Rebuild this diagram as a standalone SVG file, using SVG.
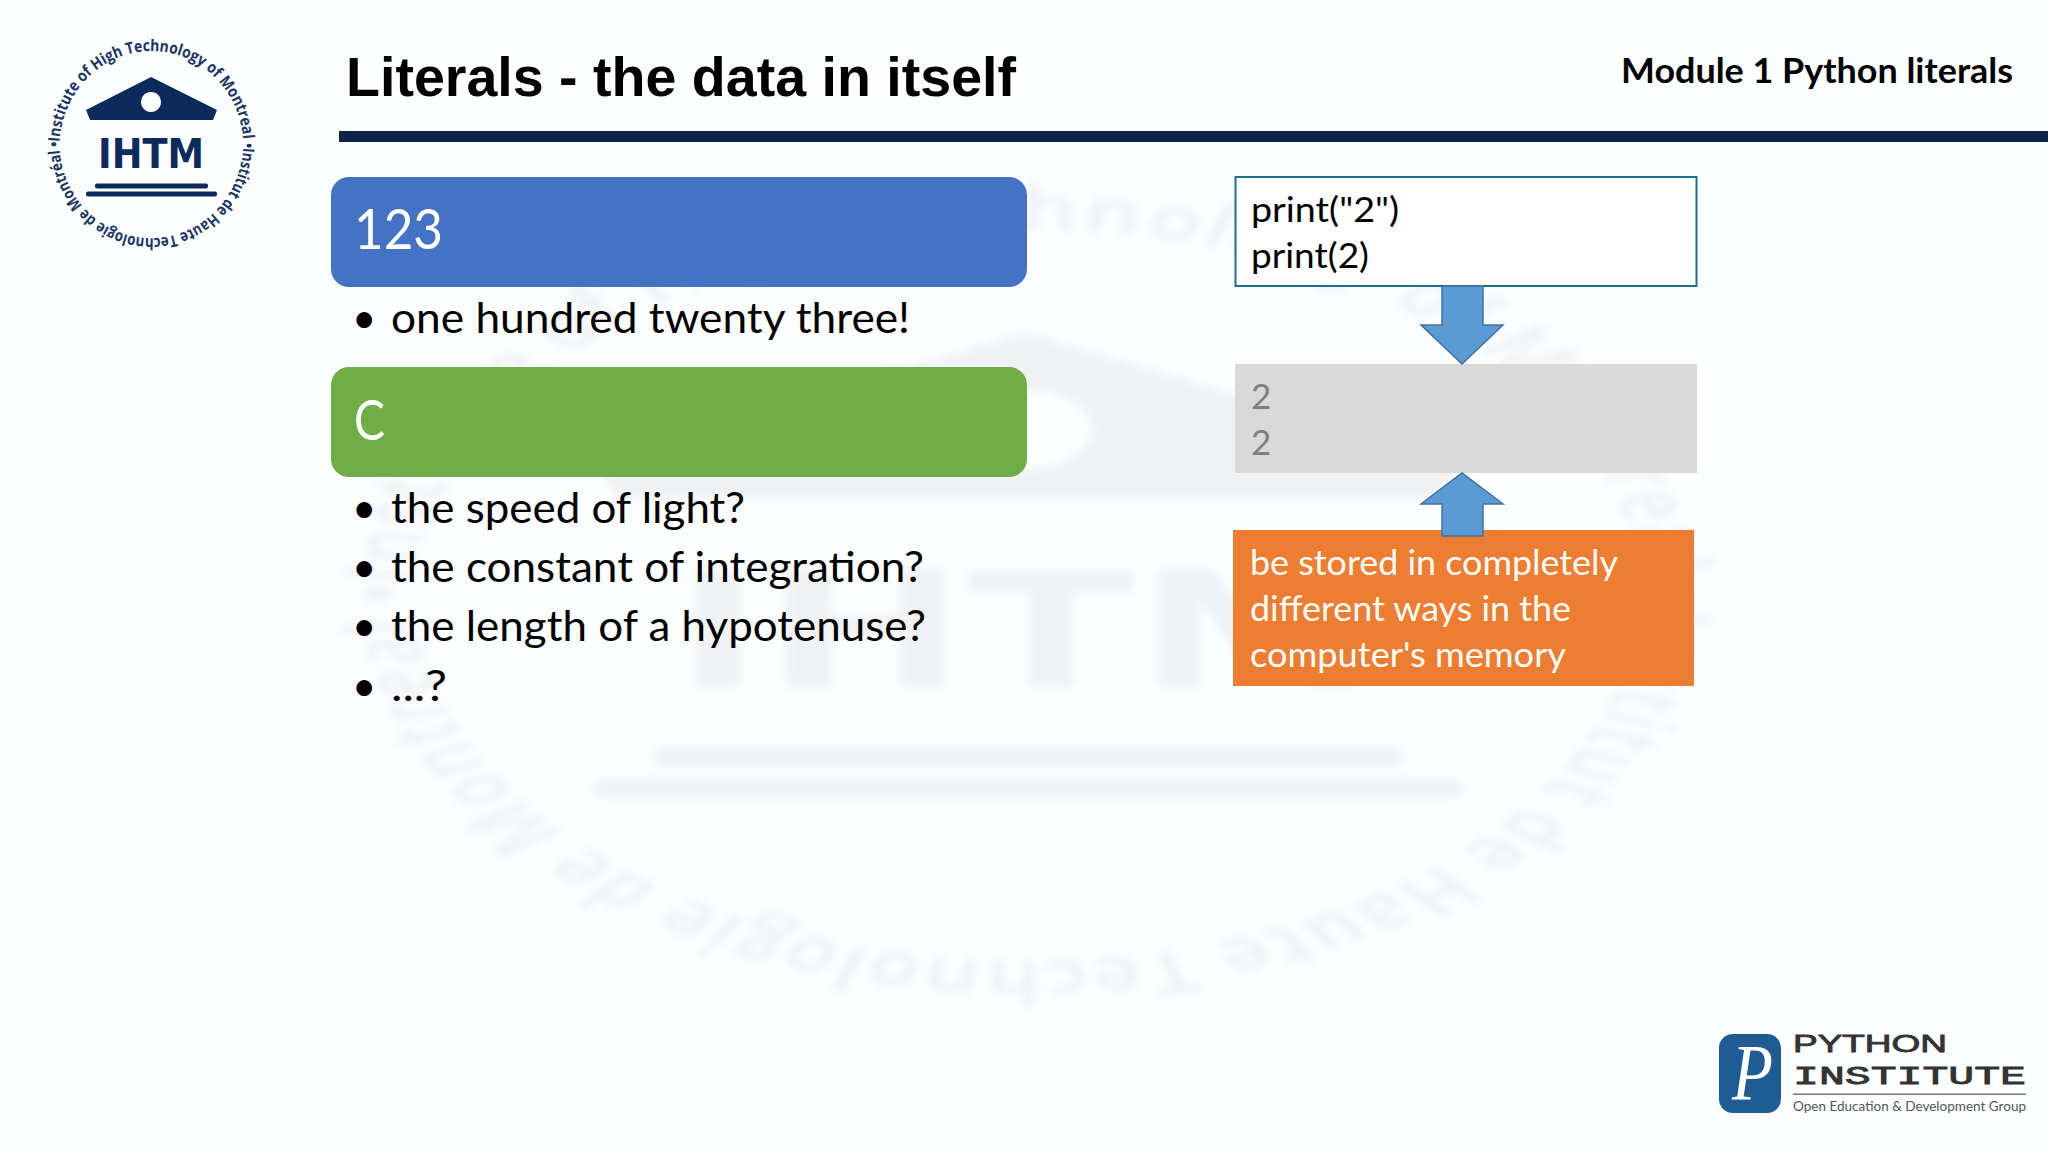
<svg xmlns="http://www.w3.org/2000/svg" width="2048" height="1152" viewBox="0 0 2048 1152">
<style>
.b{font-family:"Lato","Open Sans",sans-serif;font-size:42px;fill:#000}
.c{font-family:"Lato","Open Sans",sans-serif;font-size:35px;fill:#000}
.w{fill:#fff}
.ring{font-family:"Open Sans","Liberation Sans",sans-serif;font-weight:700;font-size:16px;fill:#1a3563}
.n{fill:#0c2a5c}
.arrow{fill:#5b9bd5;stroke:#41719c;stroke-width:1.5}
</style>
<defs>
<filter id="soft" x="-10%" y="-10%" width="120%" height="120%"><feColorMatrix type="saturate" values="0"/><feGaussianBlur stdDeviation="0.7 1.1"/></filter>
<path id="top" d="M59.5 147 A92 96 0 0 1 243.5 147 A92 96 0 0 1 243 155"/>
<path id="bot" d="M243.3 143 A92 96 0 0 1 59.7 151 A92 96 0 0 1 60 140"/>
<g id="logo">
<path class="n" d="M151 77 L217 110 L213 120 L90 120 L86 110 Z M151 92 A10 10 0 1 0 151.01 92 Z" fill-rule="evenodd"/>
<text x="151" y="168" text-anchor="middle" textLength="106" lengthAdjust="spacingAndGlyphs" font-family="DejaVu Sans,sans-serif" font-weight="700" font-size="41" class="n">IHTM</text>
<rect class="n" x="95" y="183.500" width="113" height="5" rx="2"/>
<rect class="n" x="86" y="191.500" width="131" height="5" rx="2"/>
<text class="ring"><textPath href="#top" textLength="287" lengthAdjust="spacingAndGlyphs">•Institute of High Technology of Montreal</textPath></text>
<text class="ring"><textPath href="#bot" textLength="286" lengthAdjust="spacingAndGlyphs">•Institut de Haute Technologie de Montréal</textPath></text>
</g>
</defs>
<rect width="2048" height="1152" fill="#fdfeff"/>
<g id="watermark" opacity="0.055" filter="url(#soft)" transform="translate(1025 605) scale(6.65 3.9) translate(-151 -147)"><use href="#logo"/></g>
<g id="logo-ihtm"><use href="#logo"/></g>
<g id="title">
<text x="346" y="96" textLength="670" lengthAdjust="spacingAndGlyphs" font-family="Liberation Sans,sans-serif" font-weight="700" font-size="56" fill="#000">Literals - the data in itself</text>
<text x="1621" y="83" textLength="392" lengthAdjust="spacingAndGlyphs" font-family="Lato,sans-serif" font-weight="700" font-size="35" fill="#000">Module 1 Python literals</text>
<rect x="339" y="131" width="1709" height="11" fill="#0b2447"/>
</g>
<g id="node-123">
<rect x="331" y="177" width="696" height="110" rx="18" fill="#4472c4"/>
<text class="w" x="354" y="249" textLength="89" lengthAdjust="spacingAndGlyphs" font-family="Lato,sans-serif" font-size="56">123</text>
</g>
<g id="list-123">
<text class="b" x="352" y="333">•</text>
<text class="b" x="391" y="333" textLength="519" lengthAdjust="spacingAndGlyphs">one hundred twenty three!</text>
</g>
<g id="node-c">
<rect x="331" y="367" width="696" height="110" rx="18" fill="#70ad47"/>
<text class="w" x="354" y="440" textLength="31" lengthAdjust="spacingAndGlyphs" font-family="Lato,sans-serif" font-size="56">C</text>
</g>
<g id="list-c">
<text class="b" x="352" y="523">•</text>
<text class="b" x="391" y="523" textLength="354" lengthAdjust="spacingAndGlyphs">the speed of light?</text>
<text class="b" x="352" y="582">•</text>
<text class="b" x="391" y="582" textLength="533" lengthAdjust="spacingAndGlyphs">the constant of integration?</text>
<text class="b" x="352" y="641">•</text>
<text class="b" x="391" y="641" textLength="535" lengthAdjust="spacingAndGlyphs">the length of a hypotenuse?</text>
<text class="b" x="352" y="701">•</text>
<text class="b" x="391" y="701" textLength="56" lengthAdjust="spacingAndGlyphs">...?</text>
</g>
<g id="node-code">
<rect x="1235.500" y="177" width="461" height="109" fill="#fff" stroke="#1f6f8b" stroke-width="2"/>
<text class="c" x="1251" y="222" textLength="148" lengthAdjust="spacingAndGlyphs">print("2")</text>
<text class="c" x="1251" y="268" textLength="118" lengthAdjust="spacingAndGlyphs">print(2)</text>
</g>
<g id="node-output">
<rect x="1235" y="364" width="462" height="109" fill="#d9d9d9"/>
<text class="c" x="1251" y="409" style="fill:#7f7f7f">2</text>
<text class="c" x="1251" y="455" style="fill:#7f7f7f">2</text>
</g>
<g id="node-memory">
<rect x="1233" y="530" width="461" height="156" fill="#ed7d31"/>
<text class="c" style="fill:#fff" x="1250" y="575" textLength="368" lengthAdjust="spacingAndGlyphs">be stored in completely</text>
<text class="c" style="fill:#fff" x="1250" y="621" textLength="321" lengthAdjust="spacingAndGlyphs">different ways in the</text>
<text class="c" style="fill:#fff" x="1250" y="667" textLength="316" lengthAdjust="spacingAndGlyphs">computer's memory</text>
</g>
<g id="connectors">
<path class="arrow" d="M1442 286 H1483 V325 H1503 L1462 364 L1421 325 H1442 Z"/>
<path class="arrow" d="M1442 536 H1483 V504 H1503 L1462 473 L1421 504 H1442 Z"/>
</g>
<g id="logo-python">
<rect x="1719" y="1034" width="62" height="79" rx="14" fill="#1f5c94"/>
<text x="1732" y="1100" textLength="41" lengthAdjust="spacingAndGlyphs" font-family="Liberation Serif,serif" font-style="italic" font-size="80" fill="#fff">P</text>
<text x="1793" y="1052" textLength="154" lengthAdjust="spacingAndGlyphs" font-family="Liberation Sans,sans-serif" font-size="24" stroke="#333" stroke-width="0.8" fill="#333">PYTHON</text>
<text x="1793" y="1084" textLength="233" lengthAdjust="spacingAndGlyphs" font-family="Liberation Mono,monospace" font-size="25" stroke="#333" stroke-width="0.8" fill="#333">INSTITUTE</text>
<rect x="1793" y="1093.500" width="233" height="1.500" fill="#777"/>
<text x="1793" y="1111" textLength="233" lengthAdjust="spacingAndGlyphs" font-family="Lato,sans-serif" font-size="14" fill="#555">Open Education &amp; Development Group</text>
</g>
</svg>
